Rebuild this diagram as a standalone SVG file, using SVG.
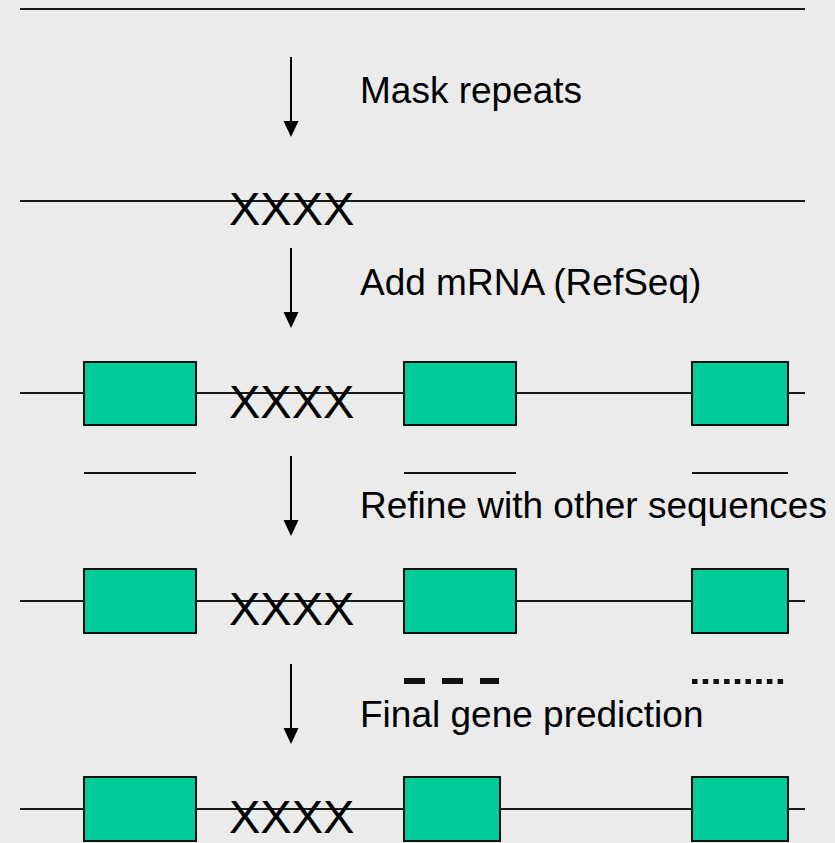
<svg xmlns="http://www.w3.org/2000/svg" width="835" height="843" viewBox="0 0 835 843">
  <style>
    .seq { stroke: #1a1a1a; stroke-width: 2; fill: none; }
    .exon { fill: #00CC99; stroke: #111; stroke-width: 2; }
    .mask { font-family: "Liberation Sans", Arial, sans-serif; font-size: 47px; fill: #000; }
    .step { font-family: "Liberation Sans", Arial, sans-serif; font-size: 37px; fill: #000; }
    .arrow { stroke: #000; stroke-width: 2; fill: none; marker-end: url(#head); }
    .evidence { stroke: #111; stroke-width: 2; fill: none; }
  </style>
  <defs>
    <!-- filled triangular arrowhead, tip at the end of the line -->
    <marker id="head" viewBox="0 0 16 16" refX="14" refY="8" markerWidth="16" markerHeight="16" markerUnits="userSpaceOnUse" orient="auto">
      <path d="M0,0.5 L16,8 L0,15.5 Z" fill="#000"/>
    </marker>
  </defs>
  <rect width="835" height="843" fill="#EBEBEB"/>

  <!-- genomic sequence, stage by stage -->
  <g id="genome-raw">
    <line class="seq" x1="20" y1="9" x2="805" y2="9"/>
  </g>

  <g id="genome-masked">
    <line class="seq" x1="20" y1="201" x2="805" y2="201"/>
    <text class="mask" x="229" y="225">XXXX</text>
  </g>

  <g id="genome-mrna">
    <line class="seq" x1="20" y1="393" x2="805" y2="393"/>
    <text class="mask" x="229" y="418">XXXX</text>
    <rect class="exon" x="84" y="362" width="112" height="63"/>
    <rect class="exon" x="404" y="362" width="112" height="63"/>
    <rect class="exon" x="692" y="362" width="96" height="63"/>
  </g>

  <g id="evidence-other">
    <line class="evidence" x1="84" y1="473" x2="196" y2="473"/>
    <line class="evidence" x1="404" y1="473" x2="516" y2="473"/>
    <line class="evidence" x1="692" y1="473" x2="788" y2="473"/>
  </g>

  <g id="genome-refined">
    <line class="seq" x1="20" y1="601" x2="805" y2="601"/>
    <text class="mask" x="229" y="625">XXXX</text>
    <rect class="exon" x="84" y="569" width="112" height="64"/>
    <rect class="exon" x="404" y="569" width="112" height="64"/>
    <rect class="exon" x="692" y="569" width="96" height="64"/>
  </g>

  <g id="evidence-weak">
    <line x1="404" y1="681" x2="499" y2="681" stroke="#111" stroke-width="6" stroke-dasharray="21 17"/>
    <line x1="692" y1="681.5" x2="784" y2="681.5" stroke="#111" stroke-width="5" stroke-dasharray="5.5 5.2"/>
  </g>

  <g id="genome-final">
    <line class="seq" x1="20" y1="809" x2="805" y2="809"/>
    <text class="mask" x="229" y="833">XXXX</text>
    <rect class="exon" x="84" y="777" width="112" height="64"/>
    <rect class="exon" x="404" y="777" width="96" height="64"/>
    <rect class="exon" x="692" y="777" width="96" height="64"/>
  </g>

  <!-- processing steps -->
  <g id="connectors">
    <line class="arrow" x1="291" y1="57" x2="291" y2="135"/>
    <line class="arrow" x1="291" y1="248" x2="291" y2="326"/>
    <line class="arrow" x1="291" y1="456" x2="291" y2="534"/>
    <line class="arrow" x1="291" y1="664" x2="291" y2="742"/>
  </g>

  <g id="labels">
    <text class="step" x="360" y="103">Mask repeats</text>
    <text class="step" x="360" y="295">Add mRNA (RefSeq)</text>
    <text class="step" x="360" y="518">Refine with other sequences</text>
    <text class="step" x="360" y="727">Final gene prediction</text>
  </g>
</svg>
